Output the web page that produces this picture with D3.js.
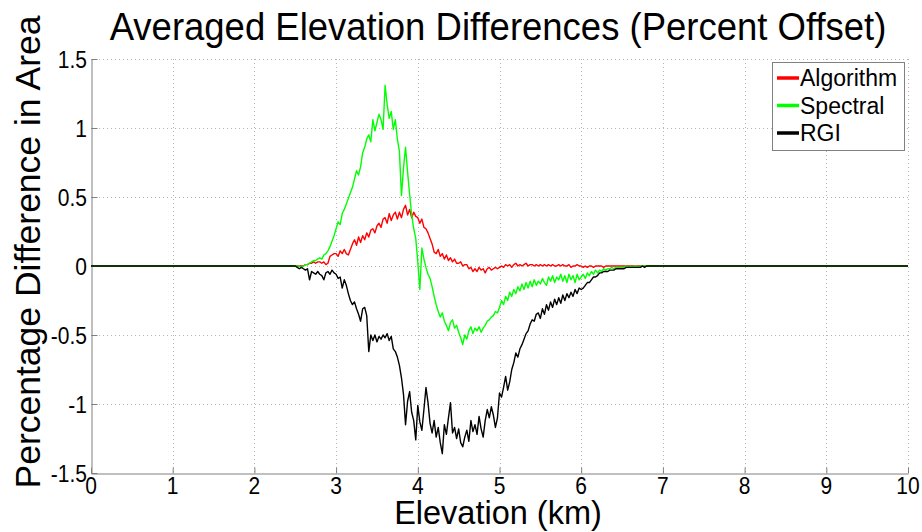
<!DOCTYPE html>
<html>
<head>
<meta charset="utf-8">
<script src="https://cdn.jsdelivr.net/npm/d3@7/dist/d3.min.js"></script>
<style>
  body { margin: 0; background: #fff; }
  text { font-family: "Liberation Sans", Arial, Helvetica, sans-serif; fill: #000; }
</style>
</head>
<body>
<svg id="chart" width="922" height="532"></svg>
<script>
// elevation bins (km): first bin and spacing of the sampled values below
var elevStart = 2.5, elevStep = 0.025;

// percent offset per elevation bin, 2.5 km .. 7.0 km
var algorithm = [
  0.00, 0.00, 0.00, 0.00, 0.00, 0.01, 0.01, 0.02, 0.02, 0.03, 0.02, 0.03, 0.03, 0.02, 0.03, 0.01, 0.02, 0.07, 0.08, 0.09,
  0.09, 0.07, 0.11, 0.09, 0.12, 0.09, 0.08, 0.12, 0.16, 0.19, 0.15, 0.21, 0.17, 0.22, 0.19, 0.24, 0.21, 0.26, 0.27, 0.24,
  0.29, 0.31, 0.28, 0.34, 0.35, 0.31, 0.38, 0.33, 0.37, 0.39, 0.34, 0.39, 0.35, 0.41, 0.44, 0.37, 0.41, 0.35, 0.39, 0.36,
  0.35, 0.31, 0.34, 0.28, 0.27, 0.24, 0.20, 0.16, 0.10, 0.09, 0.12, 0.07, 0.09, 0.05, 0.08, 0.04, 0.06, 0.03, 0.05, 0.02,
  0.02, 0.03, 0.00, 0.01, 0.01, -0.02, -0.01, -0.04, -0.02, -0.04, -0.01, -0.03, -0.02, -0.05, -0.02, -0.01, -0.03, -0.02, -0.01, -0.02,
  -0.01, 0.00, -0.01, 0.01, 0.00, 0.01, -0.01, 0.01, 0.02, 0.00, 0.01, 0.00, 0.01, 0.02, 0.00, 0.01, 0.01, 0.00, 0.01, 0.00,
  0.01, 0.00, 0.01, 0.00, 0.01, 0.00, 0.01, 0.00, 0.00, 0.01, 0.00, 0.01, 0.00, 0.00, 0.01, -0.01, 0.00, 0.00, 0.01, 0.00,
  0.00, -0.01, 0.00, -0.01, 0.00, 0.00, -0.01, 0.00, 0.00, 0.00, 0.00, -0.01, 0.00, 0.00, 0.00, 0.00, 0.00, 0.00, 0.00, 0.00,
  0.00, 0.00, 0.00, 0.00, 0.00, 0.00, 0.00, 0.00, 0.00, 0.00, 0.00, 0.00, 0.00, 0.00, 0.00, 0.00, 0.00, 0.00, 0.00, 0.00, 0.00
];

var spectral = [
  0.00, 0.00, 0.00, -0.01, 0.00, 0.01, 0.01, 0.02, 0.03, 0.04, 0.04, 0.05, 0.06, 0.05, 0.08, 0.09, 0.11, 0.14, 0.18, 0.22,
  0.27, 0.32, 0.30, 0.38, 0.41, 0.45, 0.49, 0.53, 0.57, 0.63, 0.69, 0.66, 0.72, 0.82, 0.86, 0.92, 0.95, 0.90, 1.06, 0.98,
  1.04, 1.10, 1.06, 0.99, 1.31, 1.17, 1.07, 1.12, 0.99, 1.06, 0.92, 0.83, 0.51, 0.71, 0.86, 0.68, 0.52, 0.37, 0.27, 0.20,
  0.03, -0.17, 0.13, 0.05, -0.01, -0.06, -0.09, -0.15, -0.22, -0.28, -0.33, -0.37, -0.34, -0.40, -0.43, -0.47, -0.41, -0.39, -0.45, -0.43,
  -0.48, -0.52, -0.57, -0.50, -0.53, -0.47, -0.44, -0.49, -0.45, -0.47, -0.44, -0.48, -0.45, -0.43, -0.40, -0.39, -0.37, -0.36, -0.33, -0.34,
  -0.30, -0.25, -0.28, -0.22, -0.25, -0.19, -0.22, -0.17, -0.20, -0.15, -0.18, -0.13, -0.17, -0.12, -0.16, -0.11, -0.15, -0.10, -0.14, -0.11,
  -0.13, -0.09, -0.12, -0.14, -0.08, -0.11, -0.07, -0.12, -0.08, -0.10, -0.06, -0.11, -0.07, -0.12, -0.06, -0.10, -0.07, -0.12, -0.06, -0.10,
  -0.08, -0.06, -0.09, -0.05, -0.07, -0.04, -0.06, -0.03, -0.05, -0.03, -0.04, -0.02, -0.03, -0.02, -0.02, -0.01, -0.02, -0.01, -0.01, -0.01,
  -0.01, -0.01, 0.00, -0.01, 0.00, -0.01, 0.00, 0.00, -0.01, 0.00, 0.00, 0.00, 0.00, 0.00, 0.00, 0.00, 0.00, 0.00, 0.00, 0.00, 0.00
];

var rgi = [
  0.00, -0.01, -0.02, -0.01, -0.02, -0.03, -0.02, -0.10, -0.04, -0.05, -0.06, -0.04, -0.06, -0.07, -0.10, -0.05, -0.04, -0.06, -0.03, -0.05,
  -0.06, -0.09, -0.08, -0.16, -0.10, -0.14, -0.20, -0.25, -0.28, -0.26, -0.31, -0.35, -0.40, -0.31, -0.30, -0.36, -0.62, -0.50, -0.54, -0.50,
  -0.55, -0.51, -0.53, -0.50, -0.52, -0.49, -0.54, -0.51, -0.60, -0.62, -0.66, -0.72, -0.81, -0.93, -1.15, -0.98, -0.91, -1.06, -1.12, -1.26,
  -1.01, -1.13, -1.19, -1.04, -0.88, -0.99, -1.14, -1.21, -1.12, -1.24, -1.17, -1.28, -1.36, -1.15, -1.22, -1.10, -0.99, -1.21, -1.17, -1.25,
  -1.18, -1.28, -1.31, -1.24, -1.19, -1.27, -1.12, -1.20, -1.15, -1.22, -1.09, -1.18, -1.24, -1.12, -1.04, -1.10, -1.02, -1.08, -1.17, -1.10,
  -0.92, -0.95, -0.88, -0.80, -0.90, -0.84, -0.75, -0.70, -0.63, -0.66, -0.60, -0.57, -0.53, -0.49, -0.47, -0.42, -0.39, -0.40, -0.35, -0.34,
  -0.38, -0.31, -0.35, -0.28, -0.32, -0.26, -0.30, -0.24, -0.28, -0.23, -0.27, -0.21, -0.25, -0.20, -0.23, -0.19, -0.22, -0.17, -0.20, -0.16,
  -0.17, -0.16, -0.14, -0.12, -0.12, -0.10, -0.08, -0.08, -0.07, -0.05, -0.05, -0.04, -0.04, -0.04, -0.03, -0.03, -0.03, -0.02, -0.02, -0.02,
  -0.02, -0.02, -0.01, -0.01, -0.01, -0.01, -0.01, -0.01, -0.01, -0.01, 0.00, -0.01, 0.00, 0.00, 0.00, 0.00, 0.00, 0.00, 0.00, 0.00, 0.00
];

var seriesNames = ["Algorithm", "Spectral", "RGI"];
var seriesColors = ["#ff0000", "#00ff00", "#000000"];
var xTicks = [0, 1, 2, 3, 4, 5, 6, 7, 8, 9, 10];
var yTicks = [-1.5, -1, -0.5, 0, 0.5, 1, 1.5];

var svg = d3.select("#chart");
var plotLeft = 91, plotRight = 908, plotTop = 59, plotBottom = 473;

var x = d3.scaleLinear().domain([0, 10]).range([plotLeft, plotRight]);
var y = d3.scaleLinear().domain([-1.5, 1.5]).range([plotBottom, plotTop]);

// grid
var grid = svg.append("g").attr("stroke", "#b4b4b4").attr("stroke-width", 1)
  .attr("stroke-dasharray", "1,3");
grid.selectAll(".vg").data(xTicks.slice(1)).enter().append("line")
  .attr("x1", d => Math.round(x(d)) + 0.5).attr("x2", d => Math.round(x(d)) + 0.5)
  .attr("y1", plotTop).attr("y2", plotBottom);
grid.selectAll(".hg").data(yTicks.slice(1)).enter().append("line")
  .attr("y1", d => Math.round(y(d)) + 0.5).attr("y2", d => Math.round(y(d)) + 0.5)
  .attr("x1", plotLeft).attr("x2", plotRight);

// axes (labels drawn separately so they can be stretched like the original)
var xAxis = svg.append("g")
  .attr("transform", "translate(0," + (plotBottom + 0.5) + ")")
  .call(d3.axisBottom(x).tickValues(xTicks).tickSizeInner(-6).tickSizeOuter(0).tickFormat(""));
var yAxis = svg.append("g")
  .attr("transform", "translate(" + (plotLeft + 0.5) + ",0)")
  .call(d3.axisLeft(y).tickValues(yTicks).tickSizeInner(-6).tickSizeOuter(0).tickFormat(""));
[xAxis, yAxis].forEach(function (a) {
  a.select(".domain").attr("stroke", "#808080");
  a.selectAll(".tick line").attr("stroke", "#808080");
});

var stretch = 1.18;
svg.append("g").selectAll("text").data(xTicks).enter().append("text")
  .attr("transform", d => "translate(" + x(d) + "," + (plotBottom + 21) + ") scale(1," + stretch + ")")
  .attr("text-anchor", "middle").attr("font-size", 21)
  .text(d => d);
svg.append("g").selectAll("text").data(yTicks).enter().append("text")
  .attr("transform", d => "translate(" + (plotLeft - 4) + "," + (y(d) + 9) + ") scale(1," + stretch + ")")
  .attr("text-anchor", "end").attr("font-size", 21)
  .text(d => d);

// series
var line = d3.line().x(d => x(d[0])).y(d => y(d[1]));
[algorithm, spectral, rgi].forEach(function (vals, k) {
  var pts = [[0, 0]];
  vals.forEach(function (v, i) { pts.push([elevStart + i * elevStep, v]); });
  pts.push([10, 0]);
  svg.append("path").datum(pts)
    .attr("fill", "none")
    .attr("stroke", seriesColors[k])
    .attr("stroke-width", 1.4)
    .attr("stroke-linejoin", "round")
    .attr("d", line);
});

// legend
var lg = svg.append("g");
lg.append("rect").attr("x", 772.5).attr("y", 62.5).attr("width", 132).attr("height", 88)
  .attr("fill", "#fff").attr("stroke", "#808080").attr("stroke-width", 1);
seriesNames.forEach(function (name, k) {
  var yy = 78 + k * 27.5;
  lg.append("line").attr("x1", 777).attr("x2", 799).attr("y1", yy).attr("y2", yy)
    .attr("stroke", seriesColors[k]).attr("stroke-width", 3.5);
  lg.append("text").attr("x", 800).attr("y", yy).attr("dy", "0.36em")
    .attr("font-size", 23).text(name);
});

// titles
svg.append("text").attr("transform", "translate(498,40) scale(1,1.08)").attr("text-anchor", "middle")
  .attr("font-size", 36.5).text("Averaged Elevation Differences (Percent Offset)");
svg.append("text").attr("x", 498).attr("y", 524).attr("text-anchor", "middle")
  .attr("font-size", 32.5).text("Elevation (km)");
svg.append("text").attr("transform", "translate(40,252) rotate(-90)").attr("text-anchor", "middle")
  .attr("font-size", 35.5).text("Percentage Difference in Area");
</script>
</body>
</html>
